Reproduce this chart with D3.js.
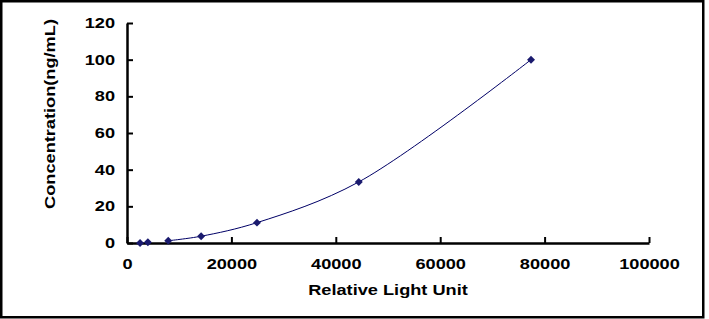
<!DOCTYPE html>
<html>
<head>
<meta charset="utf-8">
<script src="https://cdn.jsdelivr.net/npm/d3@7"></script>
<style>
  body { margin: 0; background: #fff; }
  svg { display: block; font-family: "Liberation Sans", Arial, sans-serif; }
</style>
</head>
<body>
<svg id="chart" width="709" height="319"></svg>
<script>
// standard curve points
const rlu = [2500, 4000, 7900, 14200, 24900, 44400, 77400];
const conc = [0, 0.41, 1.23, 3.7, 11.1, 33.3, 100];
const xTicks = [0, 20000, 40000, 60000, 80000, 100000];
const yTicks = [0, 20, 40, 60, 80, 100, 120];

const svg = d3.select("#chart");
const width = 709;
const height = 319;
const marginLeft = 127;
const marginRight = 60;
const marginTop = 23;
const marginBottom = 76;
const stretch = 1.3; // text in the original is drawn wide

const x = d3.scaleLinear().domain([0, 100000]).range([marginLeft, width - marginRight]);
const y = d3.scaleLinear().domain([0, 120]).range([height - marginBottom, marginTop]);

const points = rlu.map((v, i) => ({x: v, y: conc[i]}));

// outer frame
svg.append("rect")
    .attr("x", 1.25).attr("y", 1.25)
    .attr("width", 702).attr("height", 316)
    .attr("fill", "none")
    .attr("stroke", "#000")
    .attr("stroke-width", 2.5);

// horizontal axis
svg.append("g")
    .attr("transform", `translate(0,${y(0)})`)
    .call(d3.axisBottom(x).tickValues(xTicks).tickSizeInner(-6).tickSizeOuter(0).tickPadding(16).tickFormat(d3.format("d")))
    .call(g => g.select(".domain").attr("stroke-width", 2.5))
    .call(g => g.selectAll(".tick line").attr("stroke-width", 2))
    .call(g => g.selectAll("text")
        .attr("font-size", 14).attr("font-weight", "bold").attr("fill", "#000")
        .attr("transform", `scale(${stretch},1)`));

// vertical axis
svg.append("g")
    .attr("transform", `translate(${marginLeft},0)`)
    .call(d3.axisLeft(y).tickValues(yTicks).tickSizeInner(-6).tickSizeOuter(0))
    .call(g => g.select(".domain").attr("stroke-width", 2.5))
    .call(g => g.selectAll(".tick line").attr("stroke-width", 2))
    .call(g => g.selectAll("text")
        .attr("x", -12 / stretch)
        .attr("font-size", 14).attr("font-weight", "bold").attr("fill", "#000")
        .attr("transform", `scale(${stretch},1)`));

// fitted curve
const line = d3.line()
    .x(d => x(d.x))
    .y(d => y(d.y))
    .curve(d3.curveCatmullRom.alpha(0.5));

svg.append("path")
    .datum(points.slice(2))
    .attr("fill", "none")
    .attr("stroke", "#000066")
    .attr("stroke-width", 1)
    .attr("d", line);

// markers
svg.append("g")
    .selectAll("path")
    .data(points)
    .join("path")
    .attr("transform", d => `translate(${x(d.x)},${y(d.y)})`)
    .attr("d", d3.symbol(d3.symbolDiamond2, 40))
    .attr("fill", "#1a1a6e");

// axis titles
svg.append("text")
    .attr("transform", `translate(${(marginLeft + width - marginRight) / 2},295) scale(${stretch},1)`)
    .attr("text-anchor", "middle")
    .attr("font-size", 14)
    .attr("font-weight", "bold")
    .text("Relative Light Unit");

svg.append("text")
    .attr("transform", `translate(55,114) rotate(-90) scale(${stretch},1)`)
    .attr("text-anchor", "middle")
    .attr("font-size", 14)
    .attr("font-weight", "bold")
    .text("Concentration(ng/mL)");
</script>
</body>
</html>
